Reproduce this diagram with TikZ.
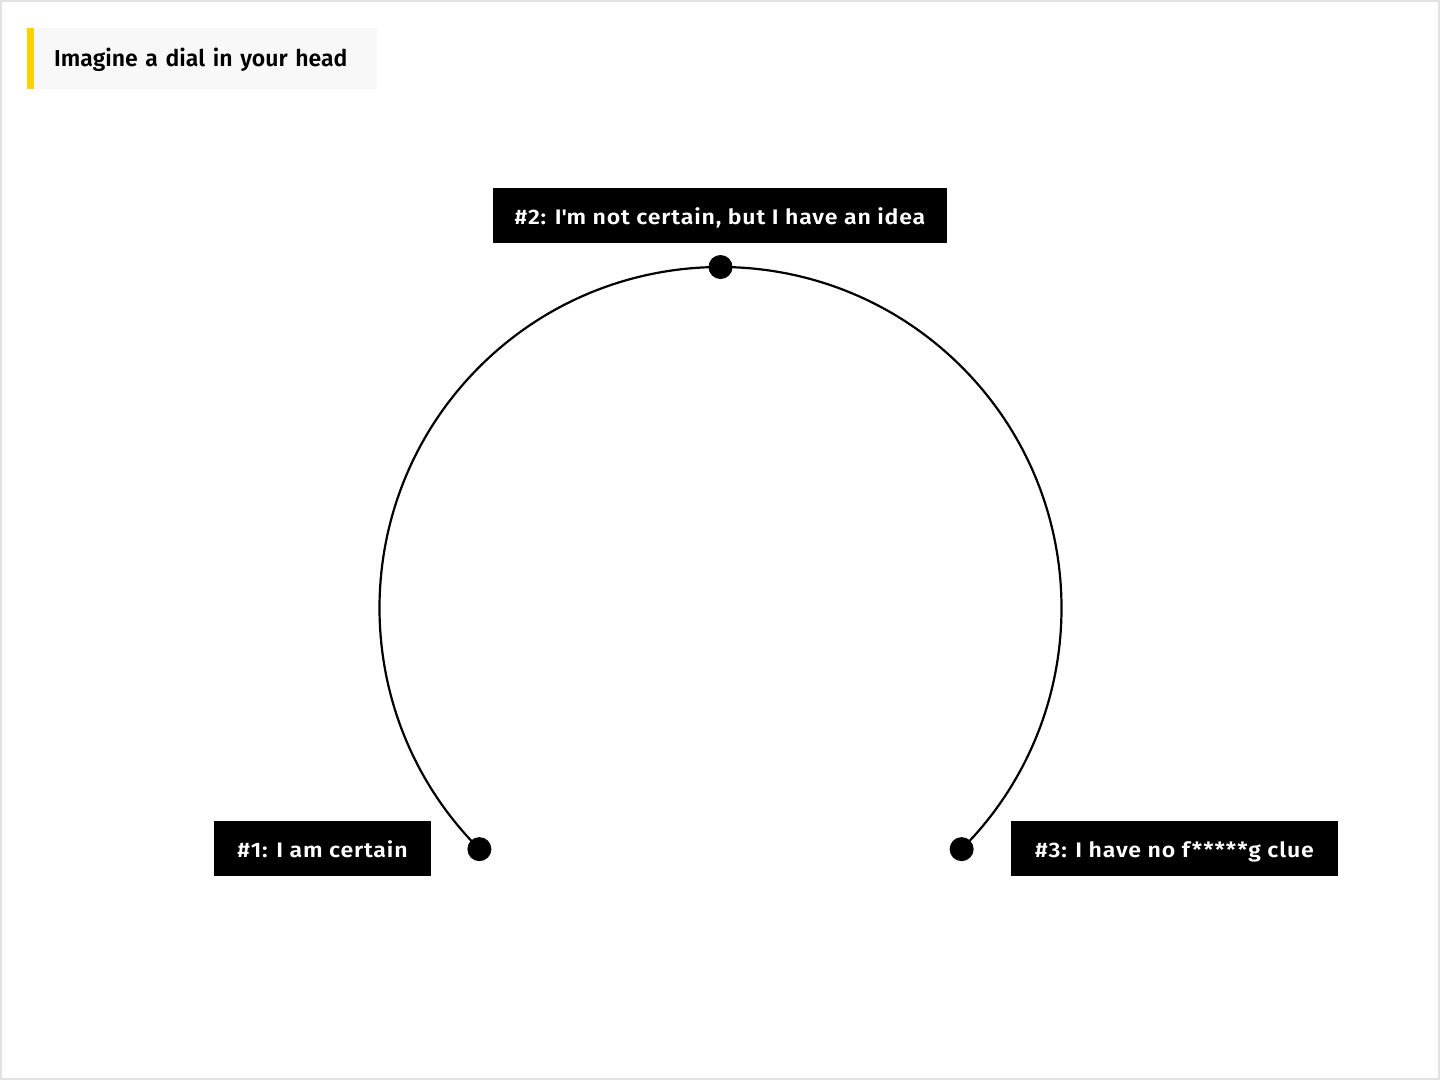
\documentclass[tikz,border=0pt]{standalone}
\usepackage{fontspec}
\setmainfont{Fira Sans}[BoldFont={Fira Sans SemiBold}]
\newfontfamily\labelfont{Fira Sans SemiBold}[FakeStretch=1.1, LetterSpace=4]
\usepackage{tikz}
\usetikzlibrary{positioning,calc}
\definecolor{dialyellow}{HTML}{FFD200}
\definecolor{titlegray}{HTML}{F8F8F8}
\definecolor{framegray}{HTML}{E2E2E2}

\begin{document}
\begin{tikzpicture} [x=1pt, y=-1pt, every node/.style={inner sep=0pt}]
\tikzstyle{label}=[rectangle, fill=black, text=white, minimum height=55pt,
  text height=20pt, text depth=2pt, font=\fontsize{21}{25}\labelfont]
\tikzstyle{dot}=[circle, fill=black, minimum size=24pt]
\tikzstyle{dial}=[line width=2.2pt]

% page and frame
\useasboundingbox (0,0) rectangle (1440,1080);
\draw [framegray, line width=2pt] (1,1) rectangle (1439,1079);

% title
\node [anchor=west, fill=titlegray, minimum height=61pt, minimum width=343pt,
  inner xsep=20pt, align=left, text width=303pt, text height=18pt, text depth=1.6pt,
  font=\fontsize{23}{27}\selectfont\bfseries] (title) at (34,58.5) {Imagine a dial in your head};
\draw [dialyellow, line width=7pt] ([xshift=-3.5pt]title.north west) -- ([xshift=-3.5pt]title.south west);

% dial (y points down: node angles run clockwise, the arc keeps page angles)
\coordinate (centre) at (720.5,608);
\node [dot] (certain) at ($(centre)+(135:341)$) {};
\node [dot] (idea) at ($(centre)+(270:341)$) {};
\node [dot] (clue) at ($(centre)+(45:341)$) {};
\draw [dial] (certain.center) arc [start angle=225, end angle=-45, radius=341pt];

% labels
\node [label, minimum width=454pt] (labidea) at (720,215.5) {\#2: I\textquotesingle m not certain, but I have an idea};
\node [label, minimum width=217pt] (labcertain) at (322.5,848.5) {\#1: I am certain};
\node [label, minimum width=327pt] (labclue) at (1174.5,848.5) {\#3: I have no f*****g clue};
\end{tikzpicture}
\end{document}
